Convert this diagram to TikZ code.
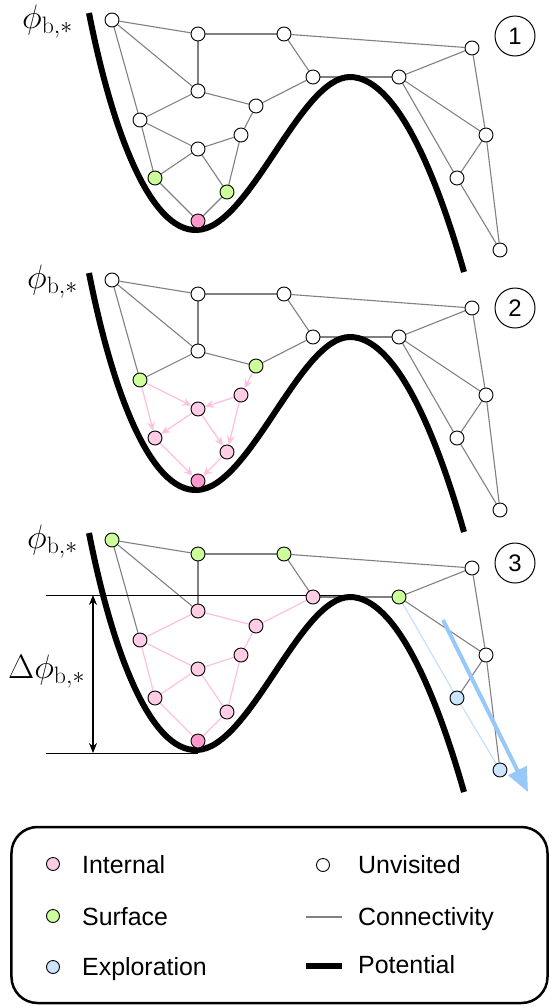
\RequirePackage{fix-cm}
\documentclass[tikz,border=0pt]{standalone}
\usepackage[no-math]{fontspec}
\newfontfamily\arialf{Liberation Sans}
\usetikzlibrary{arrows.meta}
\definecolor{pinkL}{RGB}{255,204,229}
\definecolor{pinkD}{RGB}{255,153,204}
\definecolor{greenS}{RGB}{204,255,153}
\definecolor{blueE}{RGB}{204,229,255}
\definecolor{pinkEdge}{RGB}{255,192,222}
\definecolor{blueEdge}{RGB}{196,224,252}
\definecolor{bigBlue}{RGB}{150,200,250}
\definecolor{grayEdge}{RGB}{128,128,128}
\pgfdeclarelayer{bg}
\pgfsetlayers{bg,main}
\tikzset{
  nd/.style={circle,draw=black,line width=0.9bp,fill=white,minimum size=14bp,inner sep=0pt},
  unv/.style={fill=white},
  surf/.style={fill=greenS},
  intl/.style={fill=pinkL},
  mn/.style={fill=pinkD},
  expl/.style={fill=blueE},
  sA/.style={},sB/.style={},sC/.style={},sD/.style={},sE/.style={},sF/.style={},
  sG/.style={},sH/.style={},sI/.style={},sJ/.style={},sK/.style={},sL/.style={},
  sM/.style={},sN/.style={},sO/.style={},sP/.style={},sQ/.style={},
  conn/.style={draw=grayEdge,line width=1.1bp},
  pinkconn/.style={draw=pinkEdge,line width=1.2bp},
  blueconn/.style={draw=blueEdge,line width=1.2bp},
  parrow/.style={draw=pinkEdge,line width=1.3bp,-{Stealth[length=9bp,width=8bp]}},
  pot/.style={line width=6bp,black},
  numlabel/.style={circle,draw=black,line width=1bp,minimum size=40bp,inner sep=0pt,font=\arialf\fontsize{24}{28}\selectfont},
  philabel/.style={anchor=base west,inner sep=0pt,font=\fontsize{34}{40}\selectfont},
  legtext/.style={anchor=base west,inner sep=0pt,font=\arialf\fontsize{25}{30}\selectfont},
}
\newcommand\graphnodes[1]{%
  \node[nd,sA] (#1A) at (112,20) {};
  \node[nd,sB] (#1B) at (198,34) {};
  \node[nd,sC] (#1C) at (198,91) {};
  \node[nd,sD] (#1D) at (256,106) {};
  \node[nd,sE] (#1E) at (140,120) {};
  \node[nd,sF] (#1F) at (241,135) {};
  \node[nd,sG] (#1G) at (198,149) {};
  \node[nd,sH] (#1H) at (155,178) {};
  \node[nd,sI] (#1I) at (227,192) {};
  \node[nd,sJ] (#1J) at (198,221) {};
  \node[nd,sK] (#1K) at (284,34) {};
  \node[nd,sL] (#1L) at (313,77) {};
  \node[nd,sM] (#1M) at (399,77) {};
  \node[nd,sN] (#1N) at (472,48) {};
  \node[nd,sO] (#1O) at (486,135) {};
  \node[nd,sP] (#1P) at (457,178) {};
  \node[nd,sQ] (#1Q) at (500,250) {};
}
\newcommand\potentialcurve{%
  \draw[pot] (89,13) .. controls (112,130) and (150,232) .. (197,230)
    .. controls (250,228) and (300,77) .. (350,77)
    .. controls (395,77) and (435,170) .. (464,272);
}
\begin{document}
\begin{tikzpicture}[x=1bp,y=-1bp]
\useasboundingbox (0,0) rectangle (558,1008);

% ---------------- Panel 1 ----------------
\begin{scope}[sH/.style={surf},sI/.style={surf},sJ/.style={mn}]
  \graphnodes{p1}
  \begin{pgfonlayer}{bg}
    \foreach \a/\b in {A/B,A/C,A/E,B/C,B/K,C/E,C/D,E/G,E/H,G/F,G/H,G/I,F/D,F/I,H/J,I/J,D/L,K/L,L/M,K/N,M/N,M/O,M/P,N/O,O/P,O/Q,P/Q}
      \draw[conn] (p1\a) -- (p1\b);
    \potentialcurve
  \end{pgfonlayer}
  \node[philabel] (phi1) at (22,28) {$\phi_{\mathrm{b},*}$};
  \node[numlabel] (n1) at (515,36) {1};
\end{scope}

% ---------------- Panel 2 ----------------
\begin{scope}[shift={(0,260)},sD/.style={surf},sE/.style={surf},sF/.style={intl},sG/.style={intl},sH/.style={intl},sI/.style={intl},sJ/.style={mn}]
  \graphnodes{p2}
  \begin{pgfonlayer}{bg}
    \foreach \a/\b in {A/B,A/C,A/E,B/C,B/K,C/E,C/D,D/L,K/L,L/M,K/N,M/N,M/O,M/P,N/O,O/P,O/Q,P/Q}
      \draw[conn] (p2\a) -- (p2\b);
    \foreach \a/\b in {E/G,E/H,D/F,F/G,F/I,G/H,G/I,H/J,I/J}
      \draw[parrow] (p2\a) -- (p2\b);
    \potentialcurve
  \end{pgfonlayer}
  \node[philabel] (phi2) at (27,28) {$\phi_{\mathrm{b},*}$};
  \node[numlabel] (n2) at (515,48) {2};
\end{scope}

% ---------------- Panel 3 ----------------
\begin{scope}[shift={(0,520)},sA/.style={surf},sB/.style={surf},sK/.style={surf},sM/.style={surf},
  sC/.style={intl},sD/.style={intl},sE/.style={intl},sF/.style={intl},sG/.style={intl},sH/.style={intl},sI/.style={intl},sL/.style={intl},
  sJ/.style={mn},sP/.style={expl},sQ/.style={expl}]
  \graphnodes{p3}
  \coordinate (t1) at (46,75);
  \coordinate (t2) at (348,75);
  \coordinate (b1) at (46,233);
  \coordinate (b2) at (198,233);
  \coordinate (dtop) at (93,75);
  \coordinate (dbot) at (93,233);
  \coordinate (bs) at (443,100);
  \coordinate (be) at (528,272);
  \begin{pgfonlayer}{bg}
    \foreach \a/\b in {A/B,A/C,A/E,B/C,B/K,K/L,L/M,K/N,M/N,M/O,N/O,O/P,O/Q}
      \draw[conn] (p3\a) -- (p3\b);
    \foreach \a/\b in {C/E,C/D,E/G,E/H,G/F,G/H,G/I,F/D,F/I,H/J,I/J,D/L}
      \draw[pinkconn] (p3\a) -- (p3\b);
    \foreach \a/\b in {M/P,P/Q}
      \draw[blueconn] (p3\a) -- (p3\b);
    \draw[line width=1bp] (t1) -- (t2);
    \draw[line width=1bp] (b1) -- (b2);
    \draw[line width=1.1bp,{Stealth[length=10bp,width=8bp]}-{Stealth[length=10bp,width=8bp]}] (dtop) -- (dbot);
    \potentialcurve
    \draw[bigBlue,line width=4bp,-{Triangle[length=24bp,width=20bp]}] (bs) -- (be);
  \end{pgfonlayer}
  \node[philabel] (phi3) at (27,28) {$\phi_{\mathrm{b},*}$};
  \node[philabel] (dphi) at (8,158) {$\Delta\phi_{\mathrm{b},*}$};
  \node[numlabel] (n3) at (515,43) {3};
\end{scope}

% ---------------- Legend ----------------
\node[draw=black,line width=2.5bp,rounded corners=26bp,minimum width=536bp,minimum height=176bp,inner sep=0pt] (legend) at (279.5,915) {};
\node[nd,intl,minimum size=13bp] (lgI) at (53,864) {};
\node[nd,surf,minimum size=13bp] (lgS) at (53,916) {};
\node[nd,expl,minimum size=13bp] (lgE) at (53,967) {};
\node[nd,unv,minimum size=13bp] (lgU) at (323,865) {};
\node[legtext] (txI) at (82,873) {Internal};
\node[legtext] (txS) at (82,925) {Surface};
\node[legtext] (txE) at (82,975) {Exploration};
\node[legtext] (txU) at (358,873) {Unvisited};
\node[legtext] (txC) at (358,925) {Connectivity};
\node[legtext] (txP) at (358,973) {Potential};
\coordinate (lc1) at (306,917);
\coordinate (lc2) at (342,917);
\coordinate (lp1) at (306,966);
\coordinate (lp2) at (342,966);
\draw[conn] (lc1) -- (lc2);
\draw[pot] (lp1) -- (lp2);
\end{tikzpicture}
\end{document}
